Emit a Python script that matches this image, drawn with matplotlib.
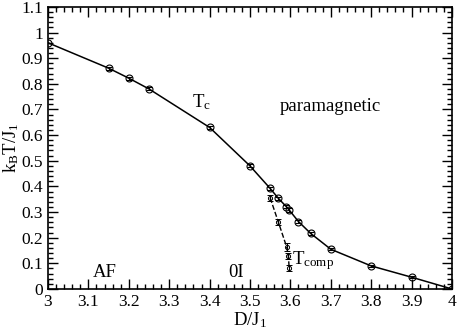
import matplotlib
matplotlib.use("Agg")
import matplotlib.pyplot as plt
from matplotlib.ticker import MultipleLocator, FuncFormatter

plt.rcParams['font.family'] = ['Liberation Serif', 'DejaVu Serif']
plt.rcParams['mathtext.fontset'] = 'custom'
plt.rcParams['mathtext.rm'] = 'Liberation Serif'
plt.rcParams['mathtext.it'] = 'Liberation Serif'

# Tc line
tc_D = [3.0, 3.15, 3.2, 3.25, 3.4, 3.5, 3.55, 3.57, 3.59, 3.597, 3.62, 3.65, 3.7, 3.8, 3.9, 4.0]
tc_T = [0.96, 0.861, 0.822, 0.78, 0.63, 0.48, 0.392, 0.354, 0.321, 0.308, 0.263, 0.217, 0.155, 0.09, 0.046, 0.0]
tc_err = [0.0, 0.006, 0.006, 0.006, 0.006, 0.006, 0.006, 0.006, 0.006, 0.006, 0.005, 0.005, 0.004, 0.004, 0.004, 0.0]

# Tcomp line
tcomp_D = [3.55, 3.57, 3.591, 3.595, 3.597]
tcomp_T = [0.355, 0.262, 0.163, 0.13, 0.082]
tcomp_err = [0.01, 0.012, 0.015, 0.012, 0.012]

fig = plt.figure(figsize=(4.57, 3.29), dpi=100)
ax = fig.add_axes([0.105, 0.1216, 0.884, 0.8575])

ax.errorbar(tc_D, tc_T, yerr=tc_err, color='black', lw=1.1, marker='o', ms=5,
            mfc='none', mec='black', mew=0.8, capsize=2.5, elinewidth=0.8, capthick=0.8)
ax.errorbar(tcomp_D, tcomp_T, yerr=tcomp_err, color='black', lw=1.0, ls='--',
            marker='o', ms=3, mfc='none', mec='black', mew=0.7,
            capsize=2.5, elinewidth=0.8, capthick=0.8)

ax.set_xlim(3, 4)
ax.set_ylim(0, 1.1)
ax.xaxis.set_major_locator(MultipleLocator(0.1))
ax.xaxis.set_minor_locator(MultipleLocator(0.02))
ax.yaxis.set_major_locator(MultipleLocator(0.1))
ax.yaxis.set_minor_locator(MultipleLocator(0.02))

def fmt(v, pos):
    s = f"{v:.1f}"
    if s.endswith(".0"):
        s = s[:-2]
    return s
ax.xaxis.set_major_formatter(FuncFormatter(fmt))
ax.yaxis.set_major_formatter(FuncFormatter(fmt))

ax.tick_params(which='both', direction='in', top=True, right=True, labelsize=12.5, width=1.0)
ax.tick_params(which='major', length=7)
ax.tick_params(which='minor', length=3.5)
for s in ax.spines.values():
    s.set_linewidth(1.2)

ax.set_xlabel('D/J$_1$', fontsize=13.5)
ax.set_ylabel('k$_B$T/J$_1$', fontsize=13.5)
ax.xaxis.set_label_coords(0.5, -0.075)
ax.yaxis.set_label_coords(-0.068, 0.5)

ax.text(3.38, 0.73, 'T$_c$', fontsize=13.5, ha='center', va='center')
ax.text(3.70, 0.71, 'paramagnetic', fontsize=13.5, ha='center', va='center')
ax.text(3.14, 0.065, 'AF', fontsize=13.5, ha='center', va='center')
ax.text(3.465, 0.065, '0I', fontsize=13.5, ha='center', va='center')
ax.text(3.604, 0.11, 'T$_{comp}$', fontsize=13.5, ha='left', va='center')

fig.savefig('out.png', dpi=100)
